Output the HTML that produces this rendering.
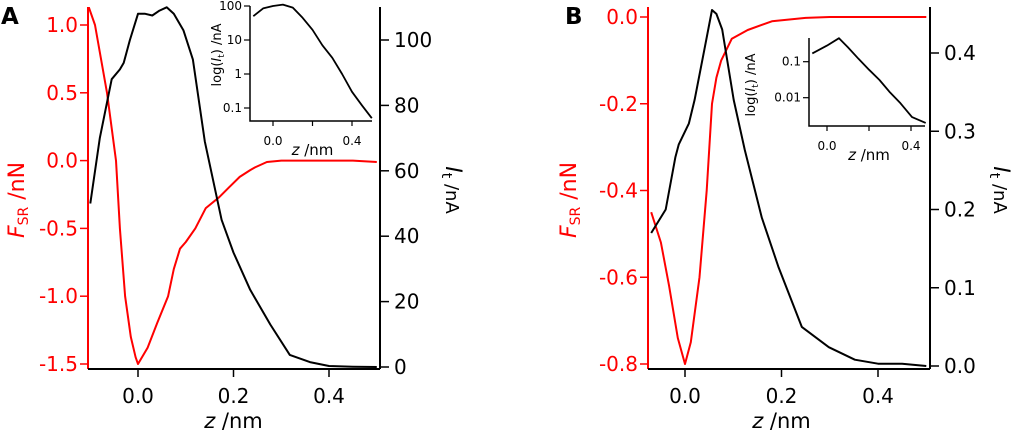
<!DOCTYPE html>
<html><head><meta charset="utf-8"><style>
html,body{margin:0;padding:0;background:#fff;width:1024px;height:432px;overflow:hidden}
svg{display:block;font-family:"DejaVu Sans","Liberation Sans",sans-serif}
</style></head><body>
<svg id="fig" width="1024" height="432" viewBox="0 0 1024 432" xmlns="http://www.w3.org/2000/svg"></svg>
<script>
// Panel A data
const aForceZ = [-0.105,-0.09,-0.065,-0.046,-0.038,-0.027,-0.015,-0.005,0,0.02,0.04,0.063,0.075,0.088,0.1,0.12,0.142,0.17,0.19,0.213,0.235,0.245,0.27,0.3,0.35,0.4,0.45,0.5];
const aForceVals = [1.15,1.0,0.5,0.0,-0.5,-1.0,-1.3,-1.45,-1.5,-1.38,-1.2,-1.0,-0.8,-0.65,-0.6,-0.5,-0.35,-0.27,-0.2,-0.12,-0.07,-0.05,-0.01,0,0,0,0,-0.01];
const aCurZ = [-0.1,-0.08,-0.055,-0.038,-0.03,-0.017,0,0.015,0.03,0.045,0.06,0.075,0.095,0.115,0.14,0.175,0.2,0.235,0.277,0.318,0.36,0.4,0.45,0.5];
const aCurVals = [50,70,88,91,93,100,108,108,107.5,109,110,108,103,94,69,45,35,23.6,13,3.7,1.5,0.3,0.1,0];
const aInsZ = [-0.1,-0.05,0,0.05,0.1,0.15,0.2,0.25,0.3,0.35,0.4,0.45,0.5];
const aInsVals = [50,85,100,110,90,45,20,7,3,1.0,0.3,0.12,0.05];
// Panel B data
const bForceZ = [-0.07,-0.05,-0.033,-0.015,0,0.012,0.03,0.045,0.056,0.065,0.075,0.097,0.13,0.18,0.25,0.3,0.4,0.5];
const bForceVals = [-0.45,-0.52,-0.62,-0.74,-0.8,-0.75,-0.6,-0.4,-0.2,-0.14,-0.1,-0.05,-0.03,-0.01,-0.002,0,0,0];
const bCurZ = [-0.07,-0.04,-0.02,-0.013,0.008,0.02,0.04,0.056,0.065,0.077,0.101,0.124,0.159,0.194,0.242,0.298,0.352,0.4,0.45,0.5];
const bCurVals = [0.17,0.2,0.267,0.283,0.31,0.34,0.404,0.455,0.45,0.43,0.34,0.276,0.19,0.126,0.05,0.024,0.008,0.003,0.003,0];
const bInsZ = [-0.07,0,0.057,0.1,0.15,0.2,0.25,0.3,0.35,0.405,0.47];
const bInsVals = [0.17,0.28,0.45,0.25,0.12,0.06,0.031,0.014,0.007,0.0029,0.002];
// Ticks
const aXTickVals=[0,0.2,0.4];
const aLTicks = [1.0,0.5,0.0,-0.5,-1.0,-1.5], aRTicks=[0,20,40,60,80,100];
const bXTickVals=[0,0.2,0.4];
const bLTicks = [0.0,-0.2,-0.4,-0.6,-0.8], bRTicks=[0.0,0.1,0.2,0.3,0.4];

const svg=document.getElementById('fig');const NS="http://www.w3.org/2000/svg";
function el(tag,attrs,parent){const e=document.createElementNS(NS,tag);for(const k in attrs)e.setAttribute(k,attrs[k]);(parent||svg).appendChild(e);return e;}
function txt(s,x,y,attrs){const t=el('text',Object.assign({x:x,y:y},attrs||{}));t.innerHTML=s;return t;}
function lin(a,pa,b,pb){return v=>pa+(v-a)*(pb-pa)/(b-a);}
function path(xs,ys,fx,fy,color,w){let d='';for(let i=0;i<xs.length;i++)d+=(i?'L':'M')+fx(xs[i]).toFixed(1)+','+fy(ys[i]).toFixed(1);return el('path',{d:d,fill:'none',stroke:color,'stroke-width':w,'stroke-linejoin':'round'});}
function fmt(v,d){return (v<0?'-':'')+Math.abs(v).toFixed(d);}

function panel(o){
  const g=el('g',{});
  const cp=el('clipPath',{id:'clip-'+o.name},g);
  el('rect',{x:o.L,y:o.T,width:o.R-o.L,height:369-o.T},cp);
  let a=el('line',{x1:o.L,y1:o.T,x2:o.L,y2:369,stroke:'#f00','stroke-width':2},g);
  a=el('line',{x1:o.L,y1:369,x2:o.R,y2:369,stroke:'#000','stroke-width':2},g);
  a=el('line',{x1:o.R,y1:o.T,x2:o.R,y2:369,stroke:'#000','stroke-width':2},g);
  o.xt.forEach(v=>{const x=o.fx(v);el('line',{x1:x,y1:369,x2:x,y2:377,stroke:'#000','stroke-width':1.5},g);
    const t=txt(v.toFixed(1),x,403,{'font-size':20,'text-anchor':'middle',fill:'#000'});g.appendChild(t);});
  o.lt.forEach(v=>{const y=o.fl(v);el('line',{x1:o.L-8,y1:y,x2:o.L,y2:y,stroke:'#f00','stroke-width':1.5},g);
    const t=txt(fmt(v,1),o.L-10,y+7,{'font-size':20,'text-anchor':'end',fill:'#f00'});g.appendChild(t);});
  o.rt.forEach(v=>{const y=o.fr(v);el('line',{x1:o.R,y1:y,x2:o.R+9,y2:y,stroke:'#000','stroke-width':1.5},g);
    const t=txt(o.rd?v.toFixed(1):String(v),o.R+14,y+7,{'font-size':20,fill:'#000'});g.appendChild(t);});
  let t=txt('<tspan font-style="italic">z</tspan> /nm',(o.fx(0)+o.fx(0.4))/2,428,{'font-size':21,'text-anchor':'middle'});g.appendChild(t);
  t=txt('<tspan font-style="italic">F</tspan><tspan font-size="14" dy="4">SR</tspan><tspan dy="-4"> /nN</tspan>',0,0,{'font-size':22,fill:'#f00','text-anchor':'middle',transform:`translate(${o.ltx},200) rotate(-90)`});g.appendChild(t);
  t=txt('<tspan font-style="italic">I</tspan><tspan font-size="14" dy="4">t</tspan><tspan dy="-4" font-size="18"> /nA</tspan>',0,0,{'font-size':22,fill:'#000','text-anchor':'middle',transform:`translate(${o.rtx},190) rotate(90)`});g.appendChild(t);
  t=txt(o.letter,o.lx,24,{'font-size':23,'font-weight':'bold'});g.appendChild(t);
  let p=path(o.fz,o.fv,o.fx,o.fl,'#f00',2);g.appendChild(p);p.setAttribute('clip-path','url(#clip-'+o.name+')');
  p=path(o.cz,o.cv,o.fx,o.fr,'#000',2);g.appendChild(p);
  const ig=el('g',{},g);
  el('polyline',{points:`${o.iL},${o.iT} ${o.iL},${o.iB} ${o.iR},${o.iB}`,fill:'none',stroke:'#000','stroke-width':1.5},ig);
  o.iyt.forEach((v,i)=>{const y=o.fly(v);el('line',{x1:o.iL-6,y1:y,x2:o.iL,y2:y,stroke:'#000','stroke-width':1.2},ig);
    const tt=txt(o.iyl[i],o.iL-8,y+4,{'font-size':12,'text-anchor':'end'});ig.appendChild(tt);});
  [0,0.2,0.4].forEach(v=>{const x=o.fix(v);el('line',{x1:x,y1:o.iB,x2:x,y2:o.iB+5,stroke:'#000','stroke-width':1.2},ig);
    if(v!==0.2){const tt=txt(v.toFixed(1),x,o.iB+24,{'font-size':12,'text-anchor':'middle'});ig.appendChild(tt);}});
  t=txt('<tspan font-style="italic">z</tspan> /nm',o.fix(0.2),o.iB+34,{'font-size':15,'text-anchor':'middle'});ig.appendChild(t);
  t=txt('log(<tspan font-style="italic">I</tspan><tspan font-size="9" dy="3">t</tspan><tspan dy="-3">) /nA</tspan>',0,0,{'font-size':13,'text-anchor':'middle',transform:`translate(${o.iytx},${o.iyty}) rotate(-90)`});ig.appendChild(t);
  p=path(o.iz,o.iv,o.fix,o.fly,'#000',1.8);ig.appendChild(p);
}
panel({name:'panel-a',letter:'A',lx:1,L:88,R:380,T:7,
  fx:lin(0,138,0.2,233.5),fl:lin(1.0,25,-1.5,364),fr:lin(0,367,100,40),
  xt:aXTickVals,lt:aLTicks,rt:aRTicks,rd:false,ltx:24,rtx:446,
  fz:aForceZ,fv:aForceVals,cz:aCurZ,cv:aCurVals,
  iL:250,iR:372,iT:6,iB:121,fix:lin(0,273,0.4,352),fly:v=>6+(2-Math.log10(v))*34,
  iyt:[100,10,1,0.1],iyl:['100','10','1','0.1'],iytx:221,iyty:55,iz:aInsZ,iv:aInsVals});
panel({name:'panel-b',letter:'B',lx:565,L:648,R:930,T:7,
  fx:lin(0,685,0.2,781.5),fl:lin(0,17,-0.8,364),fr:lin(0,366,0.4,53),
  xt:bXTickVals,lt:bLTicks,rt:bRTicks,rd:true,ltx:576,rtx:994,
  fz:bForceZ,fv:bForceVals,cz:bCurZ,cv:bCurVals,
  iL:809,iR:925,iT:38,iB:126,fix:lin(0,827,0.4,911),fly:v=>61.7+(-1-Math.log10(v))*36,
  iyt:[0.1,0.01],iyl:['0.1','0.01'],iytx:755,iyty:85,iz:bInsZ,iv:bInsVals});
</script>
</body></html>
